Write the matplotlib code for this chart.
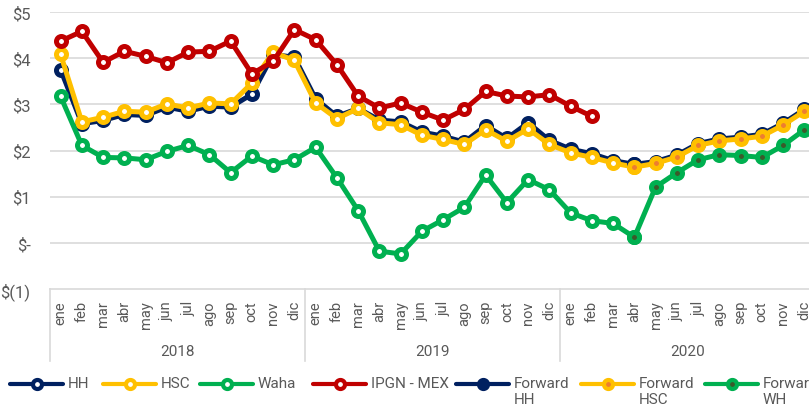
import numpy as np
import matplotlib.pyplot as plt
from matplotlib.lines import Line2D
import matplotlib.transforms as mtransforms

plt.rcParams['font.family'] = ['Liberation Sans Narrow', 'Roboto', 'DejaVu Sans']

# category axis
months = ['ene', 'feb', 'mar', 'abr', 'may', 'jun', 'jul', 'ago', 'sep', 'oct', 'nov', 'dic'] * 3
years = ['2018', '2019', '2020']

# actual prices, ene 2018 .. abr 2020
hh = [3.75, 2.58, 2.65, 2.78, 2.76, 2.94, 2.85, 2.96, 2.94, 3.22, 4.08, 4.02,
      3.12, 2.74, 2.91, 2.66, 2.62, 2.40, 2.31, 2.18, 2.54, 2.26, 2.60, 2.22,
      2.03, 1.93, 1.78, 1.70]
hsc = [4.08, 2.62, 2.72, 2.85, 2.83, 3.01, 2.92, 3.03, 3.01, 3.46, 4.13, 3.95,
       3.03, 2.69, 2.91, 2.60, 2.56, 2.33, 2.24, 2.13, 2.45, 2.20, 2.47, 2.13,
       1.95, 1.85, 1.73, 1.64]
waha = [3.17, 2.11, 1.85, 1.84, 1.80, 1.98, 2.11, 1.91, 1.52, 1.88, 1.69, 1.80,
        2.07, 1.41, 0.70, -0.18, -0.24, 0.25, 0.50, 0.77, 1.47, 0.87, 1.37, 1.15,
        0.65, 0.48, 0.42, 0.12]
# ene 2018 .. feb 2020
ipgn = [4.37, 4.58, 3.91, 4.15, 4.04, 3.90, 4.13, 4.15, 4.37, 3.66, 3.93, 4.62,
        4.40, 3.86, 3.18, 2.92, 3.03, 2.83, 2.66, 2.89, 3.28, 3.18, 3.16, 3.21,
        2.96, 2.74]
# forwards, abr 2020 .. dic 2020
fwd_hh = [1.70, 1.76, 1.90, 2.15, 2.25, 2.29, 2.35, 2.59, 2.89]
fwd_hsc = [1.64, 1.72, 1.86, 2.11, 2.21, 2.25, 2.31, 2.55, 2.85]
fwd_wh = [0.12, 1.21, 1.52, 1.80, 1.91, 1.89, 1.85, 2.11, 2.45]
fwd_start = 27

NAVY = '#002060'
YEL = '#FFC000'
GRN = '#00B050'
RED = '#C00000'
GRID = '#D9D9D9'
TXT = '#595959'

W, H = 809, 410
fig = plt.figure(figsize=(W / 100, H / 100), dpi=100)
ax = fig.add_axes([50 / W, 1 - 290 / H, 765 / W, 277 / H])

lw = 3.6
ms = 7.2
mew = 3.6

def line(x, y, c, face):
    ax.plot(x, y, color=c, lw=lw, marker='o', ms=ms, mew=mew, mfc=face, mec=c,
            solid_joinstyle='round', solid_capstyle='round', clip_on=False)

line(np.arange(len(hh)), hh, NAVY, 'white')
line(np.arange(len(hsc)), hsc, YEL, 'white')
line(np.arange(len(waha)), waha, GRN, 'white')
line(np.arange(len(ipgn)), ipgn, RED, 'white')
xf = np.arange(fwd_start, fwd_start + len(fwd_hh))
line(xf, fwd_hh, NAVY, NAVY)
line(xf, fwd_hsc, YEL, '#ED7D31')
line(xf, fwd_wh, GRN, '#3B5A2A')

ax.set_xlim(-0.5, 35.5)
ax.set_ylim(-1, 5)
ax.set_yticks(range(-1, 6))
ax.set_yticklabels(['$(1)', '$-', '$1', '$2', '$3', '$4', '$5'], fontsize=12, color=TXT)
ax.tick_params(axis='y', length=0, pad=14)
for v in range(0, 6):
    ax.axhline(v, color=GRID, lw=1.2, zorder=0)
for s in ['top', 'right', 'left']:
    ax.spines[s].set_visible(False)
ax.spines['bottom'].set_color(GRID)
ax.spines['bottom'].set_linewidth(1.2)

ax.set_xticks(range(36))
ax.set_xticklabels(months, rotation=90, fontsize=10.5, color=TXT, va='top')
ax.tick_params(axis='x', length=0, pad=8)

trans = mtransforms.blended_transform_factory(ax.transData, ax.transAxes)
for i, yr in enumerate(years):
    ax.plot([i * 12 - 0.5] * 2, [0, -0.26], color=GRID, lw=1.2, transform=trans, clip_on=False)
    ax.text(i * 12 + 5.5, -0.224, yr, transform=trans, ha='center', va='center',
            fontsize=11, color=TXT)

# legend drawn by hand so two-line labels hang below the handle
legend_items = [
    ('HH', NAVY, 'white', 10),
    ('HSC', YEL, 'white', 103),
    ('Waha', GRN, 'white', 200),
    ('IPGN - MEX', RED, 'white', 313),
    ('Forward\nHH', NAVY, NAVY, 456),
    ('Forward\nHSC', YEL, '#ED7D31', 581),
    ('Forward\nWH', GRN, '#3B5A2A', 705),
]
ly = 1 - 385 / H
for label, c, face, x0 in legend_items:
    xs = np.array([x0, x0 + 26.5, x0 + 53]) / W
    fig.add_artist(Line2D(xs, [ly] * 3, color=c, lw=3, marker='o', markevery=[1],
                          ms=6.5, mew=3, mfc=face, mec=c, transform=fig.transFigure,
                          solid_capstyle='round'))
    fig.text((x0 + 58) / W, 1 - 377 / H, label, ha='left', va='top', fontsize=11,
             color=TXT, linespacing=1.15)

fig.savefig('out.png', dpi=100)
